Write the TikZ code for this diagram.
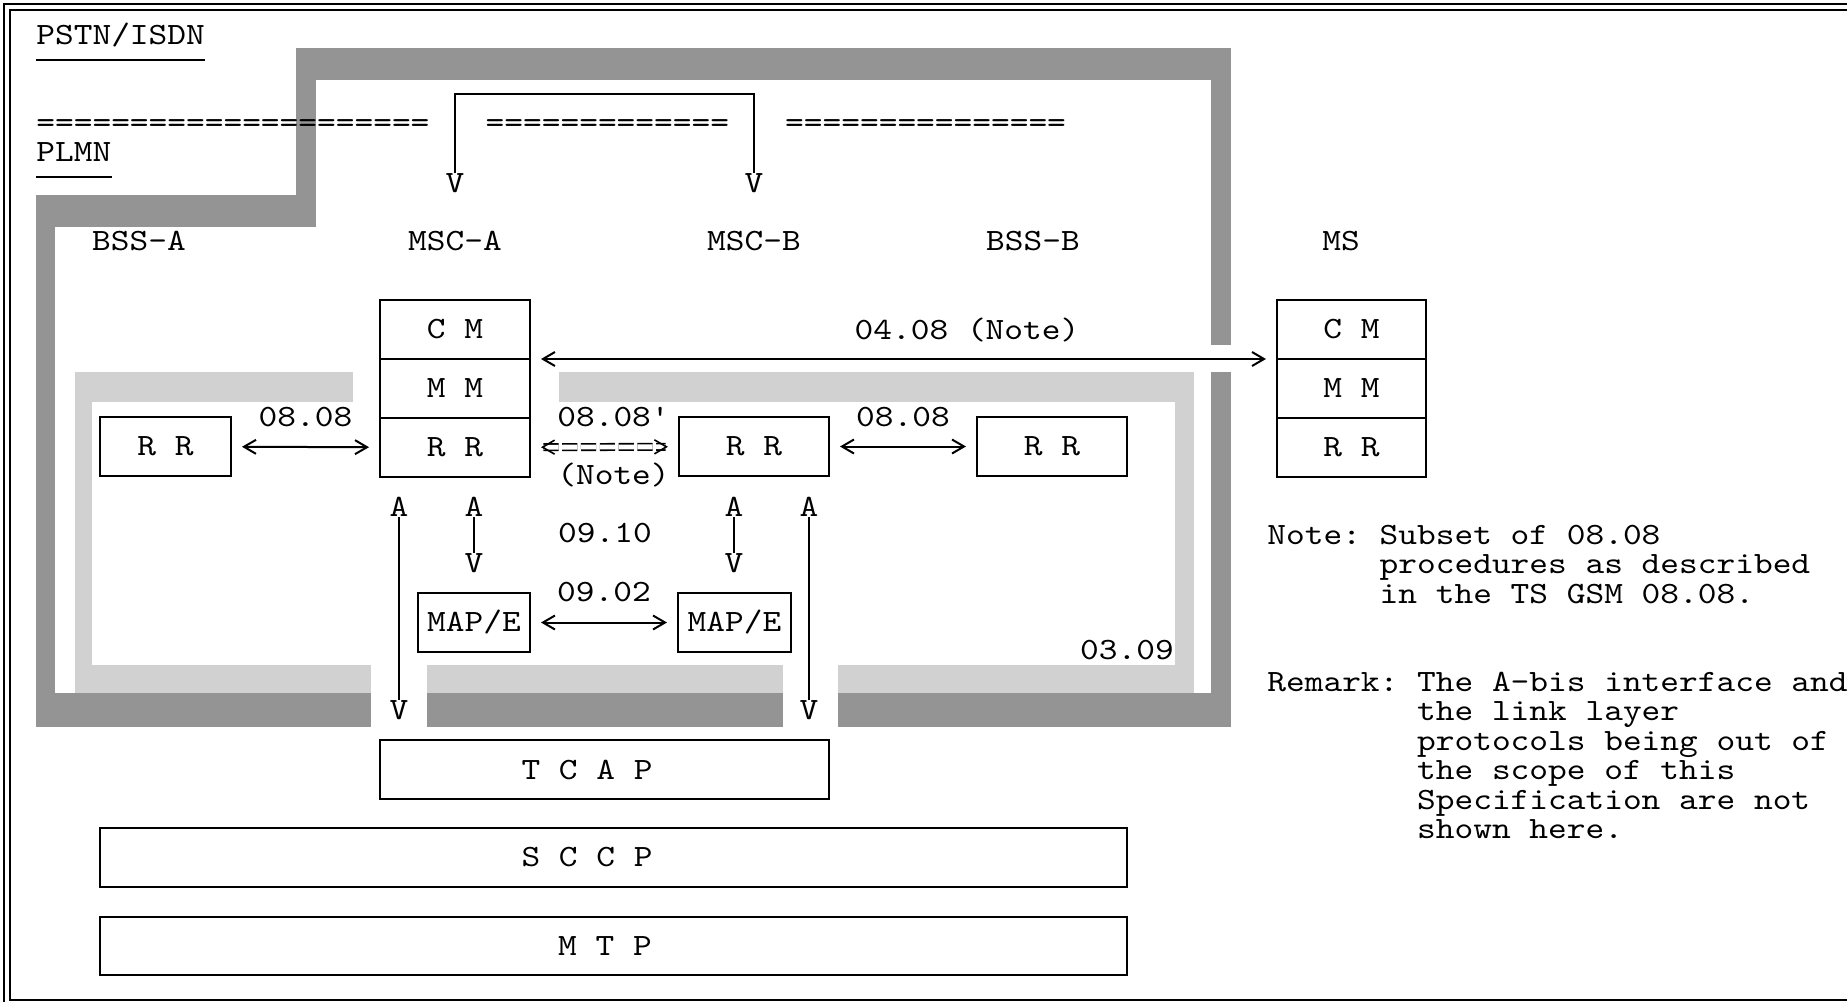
\documentclass[tikz,border=0pt]{standalone}
\usepackage{fontspec}
\usepackage{tikz}
\usetikzlibrary{arrows.meta,positioning}
\newfontfamily\gsmmono{lmmono10-regular.otf}[FakeStretch=1.15]
\newcommand{\diafont}{\gsmmono\fontsize{15.5}{14.75}\selectfont\frenchspacing}
\definecolor{plmnC}{gray}{0.58}
\definecolor{bssC}{gray}{0.82}
\tikzset{
  layer/.style={rectangle, draw, line width=1.2pt, outer sep=0pt, inner sep=0pt,
                font=\diafont, minimum height=29.5pt},
  lbl/.style={inner sep=0pt, font=\diafont},
  arr/.style={{Straight Barb[length=6pt, width=7pt]}-{Straight Barb[length=6pt, width=7pt]},
              line width=1pt, shorten <=5.5pt, shorten >=5.5pt},
  dbl/.style={arr, double, double distance=2.4pt, line width=0.8pt, dash pattern=on 7.6pt off 1.8pt},
  vline/.style={line width=1pt},
  uline/.style={line width=1.2pt},
  plmn/.style={fill=plmnC},
  bss/.style={fill=bssC},
}
\begin{document}
\begin{tikzpicture}[x=0.5pt, y=-0.5pt, node distance=0pt]
  \useasboundingbox (0,0) rectangle (1847,1002);
  \draw[line width=1pt] (1847,4) -- (4,4) -- (4,1002);
  \draw[line width=1pt] (1847,10) -- (10,10) -- (10,1000) -- (1847,1000);

  \fill[plmn] (296,48) rectangle (1231,80);
  \fill[plmn] (296,80) rectangle (316,227);
  \fill[plmn] (36,195) rectangle (316,227);
  \fill[plmn] (36,227) rectangle (55,727);
  \fill[plmn] (1211,80) rectangle (1231,345);
  \fill[plmn] (1211,372) rectangle (1231,693);
  \fill[plmn] (36,693) rectangle (371,727);
  \fill[plmn] (427,693) rectangle (783,727);
  \fill[plmn] (838,693) rectangle (1231,727);

  \fill[bss] (75,372) rectangle (353,402);
  \fill[bss] (75,402) rectangle (92,665);
  \fill[bss] (75,665) rectangle (371,693);
  \fill[bss] (427,665) rectangle (783,693);
  \fill[bss] (559,372) rectangle (1194,402);
  \fill[bss] (1175,402) rectangle (1194,665);
  \fill[bss] (838,665) rectangle (1194,693);

  \node[lbl, anchor=west] (pstn) at (36,35) {PSTN/ISDN};
  \draw[uline] ([yshift=-7.75pt]pstn.base west) -- ([yshift=-7.75pt]pstn.base east);
  \node[lbl, anchor=west] (plmnl) at (36,152) {PLMN};
  \draw[uline] ([yshift=-7.75pt]plmnl.base west) -- ([yshift=-7.75pt]plmnl.base east);
  \node[lbl, anchor=base west] (eq1) at (36,132.5) {=====================};
  \node[lbl, anchor=base west] (eq2) at (485.3,132.5) {=============};
  \node[lbl, anchor=base west] (eq3) at (784.8,132.5) {===============};

  \node[lbl] (vTopA) at (455,183) {V};
  \node[lbl] (vTopB) at (754,183) {V};
  \coordinate (brk) at (455,94);
  \draw[vline] (vTopA.north) -- (brk) -| (vTopB.north);

  \node[lbl] (bssA) at (139,241) {BSS-A};
  \node[lbl] (mscA) at (455,241) {MSC-A};
  \node[lbl] (mscB) at (754,241) {MSC-B};
  \node[lbl] (bssB) at (1033,241) {BSS-B};
  \node[lbl] (ms) at (1341,241) {MS};

  \node[layer, minimum width=75pt] (cmA) at (455,329.5) {C M};
  \node[layer, minimum width=75pt, below=of cmA] (mmA) {M M};
  \node[layer, minimum width=75pt, below=of mmA] (rrA) {R R};

  \node[layer, minimum width=74.5pt] (cmMS) at (1351.5,329.5) {C M};
  \node[layer, minimum width=74.5pt, below=of cmMS] (mmMS) {M M};
  \node[layer, minimum width=74.5pt, below=of mmMS] (rrMS) {R R};

  \node[layer, minimum width=65.5pt] (rrBssA) at (165.5,446.5) {R R};
  \node[layer, minimum width=75pt] (rrB) at (754,446.5) {R R};
  \node[layer, minimum width=75pt] (rrBssB) at (1052,446.5) {R R};
  \node[layer, minimum width=56pt] (mapA) at (474,622.5) {MAP/E};
  \node[layer, minimum width=56.5pt] (mapB) at (734.5,622.5) {MAP/E};

  \node[layer, minimum width=224.5pt] (tcap) at (604.5,769.5) {T C A P\rule{17.5pt}{0pt}};
  \node[layer, minimum width=513.5pt] (sccp) at (613.5,857.5) {S C C P\rule{26.5pt}{0pt}};
  \node[layer, minimum width=513.5pt, minimum height=29pt] (mtp) at (613.5,946) {M T P\rule{8.5pt}{0pt}};

  \draw[arr] (cmA.south east) -- node[lbl, pos=0.585, yshift=14.5pt] {04.08 (Note)} (cmMS.south west);
  \draw[arr] (rrBssA) -- node[lbl, yshift=14.75pt] {08.08} (rrA);
  \draw[dbl] (rrA) -- node[lbl, yshift=14.75pt, xshift=4.5pt] {08.08'}
                      node[lbl, yshift=-14.25pt, xshift=4.5pt] {(Note)} (rrB);
  \draw[arr] (rrB) -- node[lbl, yshift=14.75pt] {08.08} (rrBssB);
  \draw[arr] (mapA) -- node[lbl, yshift=15.25pt] {09.02} (mapB);

  \node[lbl] (aA1) at (399,507) {A};
  \node[lbl] (vA1) at (399,710) {V};
  \node[lbl] (aA2) at (474,507) {A};
  \node[lbl] (vA2) at (474,563) {V};
  \node[lbl] (aB1) at (734,507) {A};
  \node[lbl] (vB1) at (734,563) {V};
  \node[lbl] (aB2) at (809,507) {A};
  \node[lbl] (vB2) at (809,710) {V};
  \draw[vline] (aA1) -- (vA1);
  \draw[vline] (aA2) -- (vA2);
  \draw[vline] (aB1) -- (vB1);
  \draw[vline] (aB2) -- (vB2);

  \node[lbl] (i0910) at (605,533) {09.10};
  \node[lbl] (i0309) at (1127,650) {03.09};

  \node[lbl, align=left, anchor=north west] (note) at (1267,524.5)
    {Note: Subset of 08.08\\\phantom{Note: }procedures as described\\\phantom{Note: }in the TS GSM 08.08.};
  \node[lbl, align=left, anchor=north west] (remark) at (1267,671.5)
    {Remark: The A-bis interface and\\\phantom{Remark: }the link layer\\\phantom{Remark: }protocols being out of\\\phantom{Remark: }the scope of this\\\phantom{Remark: }Specification are not\\\phantom{Remark: }shown here.};
\end{tikzpicture}
\end{document}
